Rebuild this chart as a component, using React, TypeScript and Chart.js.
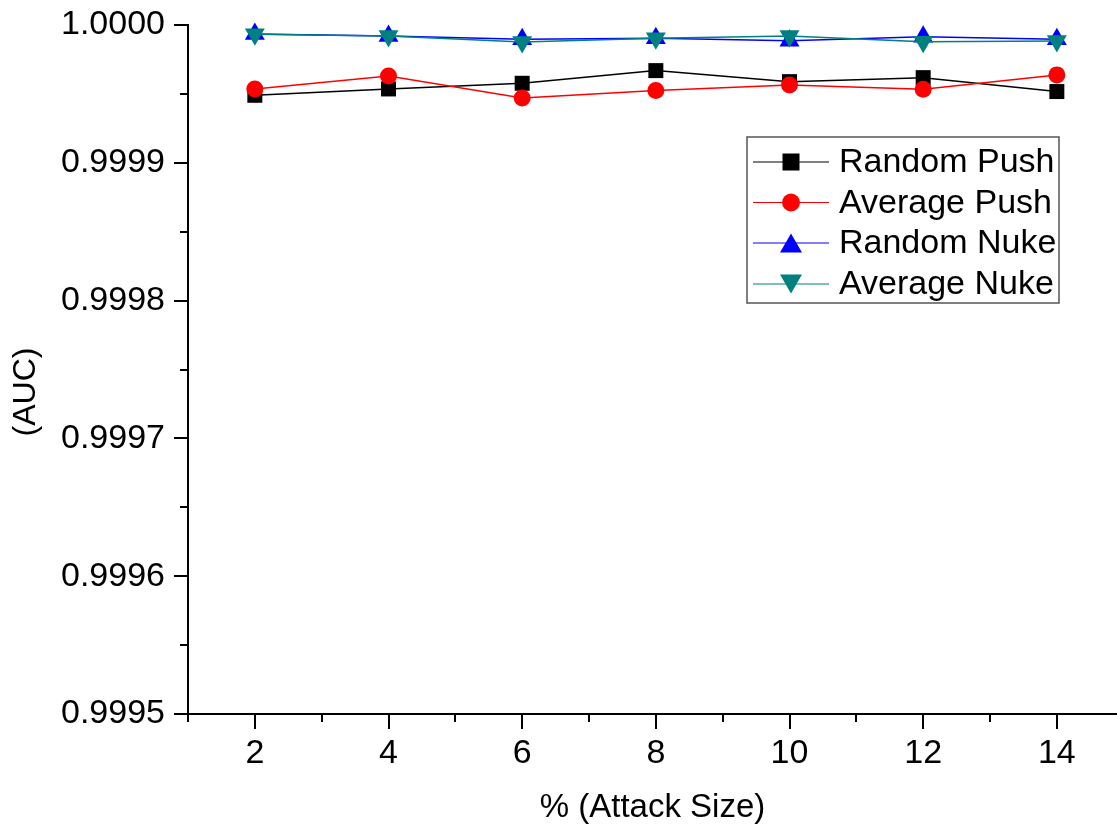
import React, { useEffect, useRef } from "react";
import { Chart, registerables } from "chart.js";

Chart.register(...registerables);

const FONT = "'Liberation Sans', Arial, Helvetica, sans-serif";

const attackSizes = [2, 4, 6, 8, 10, 12, 14];
const randomPush = [0.999949, 0.9999536, 0.9999577, 0.9999669, 0.9999589, 0.9999618, 0.9999517];
const averagePush = [0.9999536, 0.999963, 0.999947, 0.9999524, 0.9999565, 0.9999534, 0.9999638];
const randomNuke = [0.9999935, 0.999992, 0.9999896, 0.9999903, 0.9999886, 0.9999915, 0.9999896];
const averageNuke = [0.9999932, 0.999992, 0.9999877, 0.9999903, 0.999992, 0.9999879, 0.9999884];
const seriesNames = ["Random Push", "Average Push", "Random Nuke", "Average Nuke"];
const seriesColors = ["#000000", "#ff0000", "#0000ff", "#008080"];

const yMajorTicks = [0.9995, 0.9996, 0.9997, 0.9998, 0.9999, 1.0];
const yMinorTicks = [0.99955, 0.99965, 0.99975, 0.99985, 0.99995];
const xMajorTicks = [2, 4, 6, 8, 10, 12, 14];
const xMinorTicks = [1, 3, 5, 7, 9, 11, 13];

const xTitle = "% (Attack Size)";
const yTitle = "(AUC)";

type MarkerKind = "square" | "circle" | "up" | "down";
const markerKinds: MarkerKind[] = ["square", "circle", "up", "down"];

function drawMarker(ctx: CanvasRenderingContext2D, kind: MarkerKind, x: number, y: number, size: number, color: string) {
  ctx.save();
  ctx.fillStyle = color;
  ctx.beginPath();
  if (kind === "square") {
    ctx.rect(x - size / 2, y - size / 2, size, size);
  } else if (kind === "circle") {
    ctx.arc(x, y, size / 2, 0, Math.PI * 2);
  } else if (kind === "up") {
    const h = size * 0.87;
    ctx.moveTo(x, y - h / 2);
    ctx.lineTo(x + size / 2, y + h / 2);
    ctx.lineTo(x - size / 2, y + h / 2);
    ctx.closePath();
  } else {
    const h = size * 0.87;
    ctx.moveTo(x, y + h / 2);
    ctx.lineTo(x + size / 2, y - h / 2);
    ctx.lineTo(x - size / 2, y - h / 2);
    ctx.closePath();
  }
  ctx.fill();
  ctx.restore();
}

const decorPlugin = {
  id: "decor",
  afterDraw(chart: any) {
    const ctx: CanvasRenderingContext2D = chart.ctx;
    const xs = chart.scales.x;
    const ys = chart.scales.y;
    ctx.save();
    ctx.strokeStyle = "#000";
    ctx.lineWidth = 2;
    yMinorTicks.forEach((v) => {
      const py = Math.round(ys.getPixelForValue(v));
      ctx.beginPath();
      ctx.moveTo(ys.right - 8, py);
      ctx.lineTo(ys.right, py);
      ctx.stroke();
    });
    xMinorTicks.forEach((v) => {
      const px = Math.round(xs.getPixelForValue(v));
      ctx.beginPath();
      ctx.moveTo(px, xs.top);
      ctx.lineTo(px, xs.top + 8);
      ctx.stroke();
    });
    ctx.restore();

    // y axis title
    ctx.save();
    ctx.translate(26, 392);
    ctx.rotate(-Math.PI / 2);
    ctx.font = `32px ${FONT}`;
    ctx.fillStyle = "#000";
    ctx.textAlign = "center";
    ctx.textBaseline = "middle";
    ctx.fillText(yTitle, 0, 0);
    ctx.restore();

    // legend
    const boxL = 747, boxT = 137, boxR = 1059, boxB = 303;
    ctx.save();
    ctx.fillStyle = "#fff";
    ctx.fillRect(boxL, boxT, boxR - boxL, boxB - boxT);
    ctx.strokeStyle = "#555";
    ctx.lineWidth = 1.5;
    ctx.strokeRect(boxL, boxT, boxR - boxL, boxB - boxT);
    const rowY = [162, 202.5, 243, 284];
    seriesNames.forEach((name, i) => {
      const y = rowY[i];
      ctx.strokeStyle = seriesColors[i];
      ctx.lineWidth = 1.2;
      ctx.beginPath();
      ctx.moveTo(753, y);
      ctx.lineTo(829, y);
      ctx.stroke();
      const sz = markerKinds[i] === "square" ? 17 : markerKinds[i] === "circle" ? 18 : 22;
      drawMarker(ctx, markerKinds[i], 791, y, sz, seriesColors[i]);
      ctx.font = `34px ${FONT}`;
      ctx.fillStyle = "#000";
      ctx.textAlign = "left";
      ctx.textBaseline = "middle";
      ctx.fillText(name, 839, y + 1);
    });
    ctx.restore();
  },
};

export default function App() {
  const canvasRef = useRef<HTMLCanvasElement | null>(null);

  useEffect(() => {
    const canvas = canvasRef.current;
    if (!canvas) return;
    const allSeries = [randomPush, averagePush, randomNuke, averageNuke];
    const pointStyles = ["rect", "circle", "triangle", "triangle"];
    const radii = [10.6, 8.5, 11.5, 11.5];
    const rotations = [0, 0, 0, 180];
    const chart = new Chart(canvas, {
      type: "line",
      data: {
        datasets: allSeries.map((vals, i) => ({
          label: seriesNames[i],
          data: attackSizes.map((x, j) => ({ x, y: vals[j] })),
          borderColor: seriesColors[i],
          backgroundColor: seriesColors[i],
          pointBackgroundColor: seriesColors[i],
          pointBorderColor: seriesColors[i],
          pointBorderWidth: 0,
          borderWidth: 1.5,
          pointStyle: pointStyles[i] as any,
          pointRadius: radii[i],
          pointRotation: rotations[i],
          tension: 0,
          clip: false as any,
          order: 4 - i,
        })),
      },
      options: {
        animation: false,
        responsive: false,
        devicePixelRatio: 1,
        layout: { autoPadding: false, padding: { top: 25, left: 0, right: 0, bottom: 0 } },
        plugins: {
          legend: { display: false },
          tooltip: { enabled: false },
        },
        scales: {
          x: {
            type: "linear",
            min: 1,
            max: 14.9,
            afterBuildTicks: (s: any) => {
              s.ticks = xMajorTicks.map((v) => ({ value: v }));
            },
            afterFit: (s: any) => {
              s.height = 114;
              s.paddingLeft = 0;
              s.paddingRight = 0;
            },
            grid: {
              drawOnChartArea: false,
              drawTicks: true,
              tickLength: 15,
              tickWidth: 2,
              tickColor: "#000",
              lineWidth: 2,
              color: "#000",
            },
            border: { display: true, color: "#000", width: 2 },
            ticks: {
              font: { size: 34, family: FONT },
              color: "#000",
              padding: 4,
              maxRotation: 0,
              autoSkip: false,
              callback: (v: any) => String(v),
            },
            title: {
              display: true,
              text: xTitle,
              font: { size: 33, family: FONT },
              color: "#000",
              padding: { top: 0, bottom: 0 },
            },
          },
          y: {
            type: "linear",
            min: 0.9995,
            max: 1.0,
            afterBuildTicks: (s: any) => {
              s.ticks = yMajorTicks.map((v) => ({ value: v }));
            },
            afterFit: (s: any) => {
              s.width = 188;
              s.paddingTop = 0;
              s.paddingBottom = 0;
            },
            grid: {
              drawOnChartArea: false,
              drawTicks: true,
              tickLength: 14,
              tickWidth: 2,
              tickColor: "#000",
              lineWidth: 2,
              color: "#000",
            },
            border: { display: true, color: "#000", width: 2 },
            ticks: {
              font: { size: 34, family: FONT },
              color: "#000",
              padding: 9,
              autoSkip: false,
              callback: (v: any) => Number(v).toFixed(4),
            },
            title: { display: false },
          },
        },
      },
      plugins: [decorPlugin],
    });
    return () => chart.destroy();
  }, []);

  return (
    <div style={{ position: "fixed", left: 0, top: 0, width: 1117, height: 828, background: "#fff" }}>
      <canvas ref={canvasRef} width={1117} height={828} style={{ display: "block", width: 1117, height: 828 }} />
    </div>
  );
}
